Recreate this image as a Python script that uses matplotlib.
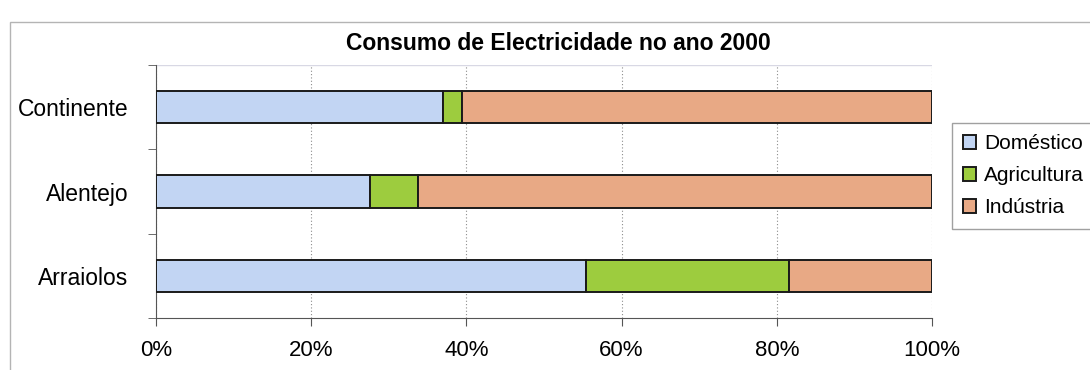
import matplotlib.pyplot as plt
from matplotlib.patches import Rectangle
from matplotlib.ticker import FuncFormatter

plt.rcParams["font.family"] = ["Liberation Sans", "DejaVu Sans"]

regions = ["Continente", "Alentejo", "Arraiolos"]
domestico = [37.0, 27.6, 55.4]
agricultura = [2.4, 6.2, 26.2]
industria = [60.6, 66.2, 18.4]

series = [
    ("Doméstico", domestico, "#c2d5f3"),
    ("Agricultura", agricultura, "#9dcc3e"),
    ("Indústria", industria, "#e8a985"),
]

W, H = 1090, 370
fig = plt.figure(figsize=(W / 100, H / 100), dpi=100)
fig.patch.set_facecolor("white")

# outer chart frame (only left/top visible in the crop)
fig.patches.append(Rectangle((10 / W, -0.2), 1.5, 1.2 - 22 / H,
                             transform=fig.transFigure, fill=False,
                             edgecolor="#b4b4b4", linewidth=1.0))

ax = fig.add_axes([156 / W, 1 - 318 / H, 776 / W, 253 / H])

ypos = [2, 1, 0]
left = [0.0] * len(regions)
for name, vals, color in series:
    ax.barh(ypos, vals, left=left, height=0.38, color=color,
            edgecolor="#1a1a1a", linewidth=1.4, label=name, zorder=3)
    left = [l + v for l, v in zip(left, vals)]

ax.set_xlim(0, 100)
ax.set_ylim(-0.5, 2.5)
ax.set_xticks([0, 20, 40, 60, 80, 100])
ax.xaxis.set_major_formatter(FuncFormatter(lambda v, p: f"{v:.0f}%"))
ax.set_yticks(ypos)
ax.set_yticklabels(regions)
ax.set_yticks([-0.5, 0.5, 1.5, 2.5], minor=True)
ax.tick_params(axis="y", which="major", length=0, pad=20, labelsize=16.5)
ax.tick_params(axis="y", which="minor", length=6, color="#555555")
ax.tick_params(axis="x", length=6, color="#555555", labelsize=16, pad=10)

ax.grid(axis="x", linestyle=(0, (1, 2)), color="#8c8c8c", linewidth=0.8, zorder=0)
for s in ["top", "right"]:
    ax.spines[s].set_visible(False)
ax.spines["left"].set_color("#555555")
ax.spines["bottom"].set_color("#555555")
ax.axhline(2.5, color="#d8d8e4", linewidth=1.0, zorder=1)

fig.text(558 / W, 1 - 44 / H, "Consumo de Electricidade no ano 2000",
         ha="center", va="center", fontsize=16.5, fontweight="bold")

leg = fig.legend(loc="upper left", bbox_to_anchor=(952 / W, 1 - 123 / H),
                 fontsize=15, frameon=True, fancybox=False, edgecolor="#888888",
                 handlelength=0.6, handleheight=0.6, handletextpad=0.4,
                 labelspacing=0.62, borderpad=0.55, borderaxespad=0)
leg.get_frame().set_linewidth(1.0)

fig.savefig("out.png", dpi=100)
